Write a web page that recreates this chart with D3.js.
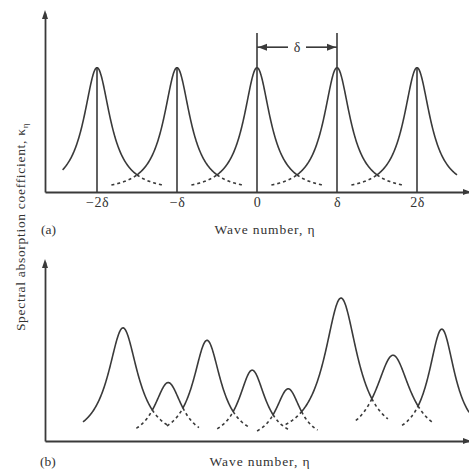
<!DOCTYPE html>
<html>
<head>
<meta charset="utf-8">
<script src="https://cdn.jsdelivr.net/npm/d3@7"></script>
<style>
  html, body { margin: 0; padding: 0; background: #fff; }
  svg { display: block; }
  text { font-family: "Liberation Serif", "DejaVu Serif", serif; fill: #333; }
</style>
</head>
<body>
<svg id="chart" width="469" height="470"></svg>
<script>
// ---------- data (wave number in units of δ, heights in units of peak (a)) ----------
// Panel (a): equally spaced, equal-strength lines
const centersA = [-2, -1, 0, 1, 2];
const heightsA = [1, 1, 1, 1, 1];
const widthsA  = [0.2, 0.2, 0.2, 0.2, 0.2];
const extentA  = [-2.43, 2.5];
const dashHalfA = 0.32;
const tickValuesA = [-2, -1, 0, 1, 2];
const tickLabelsA = ["\u22122\u03b4", "\u2212\u03b4", "0", "\u03b4", "2\u03b4"];

// Panel (b): irregular lines
const centersB = [-1.675, -1.11, -0.625, -0.06, 0.39, 1.05, 1.70, 2.31];
const heightsB = [0.91, 0.47, 0.81, 0.57, 0.42, 1.15, 0.69, 0.90];
const widthsB  = [0.225, 0.21, 0.21, 0.20, 0.19, 0.25, 0.26, 0.20];
const extentB  = [-2.175, 2.65];
const dashHalfB = 0.2;

const xLabel = "Wave number, \u03b7";
const yLabel = "Spectral absorption coefficient, \u03ba";
const yLabelSub = "\u03b7";

// ---------- setup ----------
const svg = d3.select("#chart");
const ink = "#3a3a3a";
const x = d3.scaleLinear().domain([-2.65, 2.65]).range([45, 469]);
const yA = d3.scaleLinear().domain([0, 1.44]).range([192, 13]);
const yB = d3.scaleLinear().domain([0, 1.44]).range([441, 262]);

const lor = (eta, c, h, g) => h / (1 + ((eta - c) / g) ** 2);

function sample(lo, hi, f) {
  const pts = [];
  const n = Math.ceil((hi - lo) / 0.004);
  for (let i = 0; i <= n; i++) {
    const e = lo + (hi - lo) * i / n;
    pts.push([e, f(e)]);
  }
  return pts;
}

function crossing(c1, h1, g1, c2, h2, g2) {
  let lo = c1, hi = c2;
  for (let k = 0; k < 60; k++) {
    const m = (lo + hi) / 2;
    if (lor(m, c1, h1, g1) > lor(m, c2, h2, g2)) lo = m; else hi = m;
  }
  return (lo + hi) / 2;
}

function drawPanel(y, centers, heights, widths, extent, dashHalf) {
  const g = svg.append("g");
  const line = d3.line().x(d => x(d[0])).y(d => y(d[1]));
  const envelope = e => d3.max(centers, (c, i) => lor(e, c, heights[i], widths[i]));
  g.append("path")
    .attr("d", line(sample(extent[0], extent[1], envelope)))
    .attr("fill", "none").attr("stroke", ink).attr("stroke-width", 1.6);
  for (let i = 0; i < centers.length - 1; i++) {
    const m = crossing(centers[i], heights[i], widths[i], centers[i + 1], heights[i + 1], widths[i + 1]);
    const left = sample(m - dashHalf, m, e => lor(e, centers[i + 1], heights[i + 1], widths[i + 1]));
    const right = sample(m, m + dashHalf, e => lor(e, centers[i], heights[i], widths[i]));
    [left, right].forEach(pts => {
      g.append("path").attr("d", line(pts))
        .attr("fill", "none").attr("stroke", ink).attr("stroke-width", 1.6)
        .attr("stroke-dasharray", "3,3");
    });
  }
  return g;
}

function drawAxes(y, tickValues, tickLabels) {
  const xAxis = d3.axisBottom(x).tickSizeInner(0).tickSizeOuter(0).tickPadding(5);
  if (tickValues) xAxis.tickValues(tickValues).tickFormat((d, i) => tickLabels[i]);
  else xAxis.tickValues([]);
  const gx = svg.append("g").attr("transform", `translate(0,${y(0)})`).call(xAxis);
  gx.select(".domain").attr("stroke", ink).attr("stroke-width", 1.8);
  gx.selectAll("text").attr("font-family", "Liberation Serif, serif").attr("font-size", 14)
    .attr("letter-spacing", 0.5).attr("fill", ink);
  const yAxis = d3.axisLeft(y).tickValues([]).tickSizeOuter(0);
  const gy = svg.append("g").attr("transform", `translate(${x.range()[0]},0)`).call(yAxis);
  gy.select(".domain").attr("stroke", ink).attr("stroke-width", 1.8);
  const top = y.range()[1], x0 = x.range()[0], x1 = x.range()[1], yb = y(0);
  svg.append("path").attr("d", `M${x0},${top - 3} L${x0 - 3},${top + 6} L${x0 + 3},${top + 6} Z`).attr("fill", ink);
  svg.append("path").attr("d", `M${x1 + 2},${yb} L${x1 - 6},${yb - 3} L${x1 - 6},${yb + 3} Z`).attr("fill", ink);
}

// ---------- panel (a) ----------
drawAxes(yA, tickValuesA, tickLabelsA);
drawPanel(yA, centersA, heightsA, widthsA, extentA, dashHalfA);
svg.append("g").selectAll("line").data(centersA).join("line")
  .attr("x1", d => x(d)).attr("x2", d => x(d))
  .attr("y1", yA(0)).attr("y2", (d, i) => (d === 0 || d === 1) ? yA(1.28) : yA(heightsA[i]))
  .attr("stroke", ink).attr("stroke-width", 1.6);
{
  const ya = yA(1.165), xl = x(0), xr = x(1), xm = (xl + xr) / 2;
  const ann = svg.append("g");
  ann.append("line").attr("x1", xl).attr("x2", xm - 9).attr("y1", ya).attr("y2", ya).attr("stroke", ink).attr("stroke-width", 1.6);
  ann.append("line").attr("x1", xm + 9).attr("x2", xr).attr("y1", ya).attr("y2", ya).attr("stroke", ink).attr("stroke-width", 1.6);
  ann.append("path").attr("d", `M${xl + 1},${ya} L${xl + 10},${ya - 3.5} L${xl + 10},${ya + 3.5} Z`).attr("fill", ink);
  ann.append("path").attr("d", `M${xr - 1},${ya} L${xr - 10},${ya - 3.5} L${xr - 10},${ya + 3.5} Z`).attr("fill", ink);
  ann.append("text").attr("x", xm).attr("y", ya).attr("dy", "0.35em").attr("text-anchor", "middle")
    .attr("font-size", 14).text("\u03b4");
}
svg.append("text").attr("x", 265).attr("y", 234).attr("text-anchor", "middle").attr("font-size", 13.5)
  .attr("letter-spacing", 0.9).text(xLabel);
svg.append("text").attr("x", 41).attr("y", 234).attr("font-size", 13.5).text("(a)");

// ---------- panel (b) ----------
drawAxes(yB, null, null);
drawPanel(yB, centersB, heightsB, widthsB, extentB, dashHalfB);
svg.append("text").attr("x", 260).attr("y", 466).attr("text-anchor", "middle").attr("font-size", 13.5)
  .attr("letter-spacing", 0.9).text(xLabel);
svg.append("text").attr("x", 40).attr("y", 466).attr("font-size", 13.5).text("(b)");

// ---------- shared y label ----------
{
  const t = svg.append("text").attr("transform", "translate(20,227) rotate(-90)")
    .attr("text-anchor", "middle").attr("dy", "0.35em").attr("font-size", 13.5).attr("letter-spacing", 0.7);
  t.append("tspan").text(yLabel);
  t.append("tspan").attr("font-size", 9).attr("dy", "3").text(yLabelSub);
}
</script>
</body>
</html>
